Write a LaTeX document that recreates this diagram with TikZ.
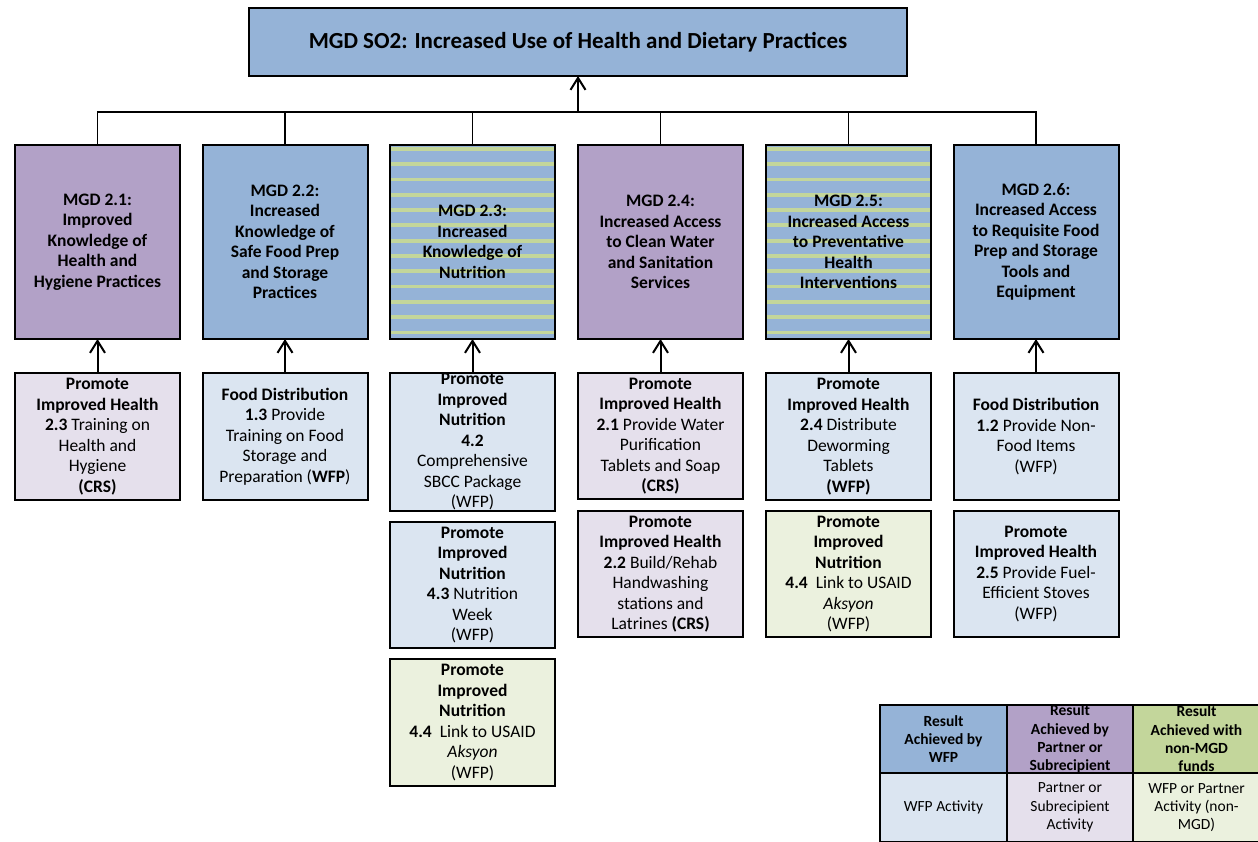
\documentclass[tikz,border=0pt]{standalone}
\usepackage{fontspec}
\setmainfont{Carlito}
\usetikzlibrary{arrows.meta,calc}
\definecolor{hblue}{HTML}{95B3D7}
\definecolor{hpurple}{HTML}{B2A1C7}
\definecolor{hgreen}{HTML}{C3D69B}
\definecolor{lblue}{HTML}{DBE5F1}
\definecolor{lpurple}{HTML}{E5E0EC}
\definecolor{lgreen}{HTML}{EBF1DE}
\tikzset{
  box/.style={draw=black, line width=2pt, rectangle, inner sep=0pt, outer sep=0pt},
  l2box/.style={box, minimum width=165pt, minimum height=194pt},
  l3box/.style={box, minimum width=165pt},
  lgbox/.style={box, minimum width=126.5pt},
  striped/.style={fill=hblue, path picture={
      \foreach \k in {0,...,12}{
        \fill[hgreen] ($(path picture bounding box.north west)+(-1pt,-2pt-\k*15.3pt)$) rectangle ++(170pt,-3.8pt);}}},
  txt/.style={align=center, inner sep=0pt, font=\fontsize{17.5}{20.5}\selectfont},
  btxt/.style={txt, font=\fontsize{17.5}{20.5}\selectfont\bfseries},
  lgtxt/.style={align=center, inner sep=0pt, font=\fontsize{15.5}{18.3}\selectfont},
  lgbtxt/.style={lgtxt, font=\fontsize{15.5}{18.3}\selectfont\bfseries},
  conn/.style={line width=2pt, -{Straight Barb[length=12pt,width=15pt]}},
  busline/.style={line width=1.6pt},
}
\begin{document}
\begin{tikzpicture}[x=1pt,y=-1pt]
\useasboundingbox (0,0) rectangle (1258,842);
\fill[white] (0,0) rectangle (1258,842);

% title
\node[box, line width=2.4pt, fill=hblue, minimum width=658pt, minimum height=68pt,
      font=\fontsize{23}{27}\selectfont\bfseries] (so2) at (578,42)
  {MGD SO2: Increased Use of Health and Dietary Practices};

% level 2
\node[l2box, fill=hpurple] (a2) at (97.5,242) {};
\node[btxt] at (a2) {MGD 2.1:\\Improved\\Knowledge of\\Health and\\Hygiene Practices};
\node[l2box, fill=hblue] (b2) at (285,242) {};
\node[btxt] at (b2) {MGD 2.2:\\Increased\\Knowledge of\\Safe Food Prep\\and Storage\\Practices};
\node[l2box, striped] (c2) at (472.5,242) {};
\node[btxt] at (c2) {MGD 2.3:\\Increased\\Knowledge of\\Nutrition};
\node[l2box, fill=hpurple] (d2) at (660.5,242) {};
\node[btxt] at (d2) {MGD 2.4:\\Increased Access\\to Clean Water\\and Sanitation\\Services};
\node[l2box, striped] (e2) at (848.5,242) {};
\node[btxt] at (e2) {MGD 2.5:\\Increased Access\\to Preventative\\Health\\Interventions};
\node[l2box, fill=hblue] (f2) at (1036,242) {};
\node[btxt] at (f2) {MGD 2.6:\\Increased Access\\to Requisite Food\\Prep and Storage\\Tools and\\Equipment};

% bus
\coordinate (bus) at (578,112);
\foreach \n in {a2,b2,c2,d2,e2,f2}{\draw[busline] (\n.north) |- (bus);}
\draw[conn] (bus) -- (so2.south);

% level 3
\node[l3box, fill=lpurple, minimum height=127pt] (a3) at (97.5,436.5) {};
\node[txt] at (a3) {\textbf{Promote}\\\textbf{Improved Health}\\\textbf{2.3} Training on\\Health and\\Hygiene\\\textbf{(CRS)}};

\node[l3box, fill=lblue, minimum height=127pt] (b3) at (285,436.5) {};
\node[txt] at (b3) {\textbf{Food Distribution}\\\textbf{1.3} Provide\\Training on Food\\Storage and\\Preparation (\textbf{WFP})};

\node[l3box, fill=lblue, minimum height=138pt] (c3a) at (472.5,442) {};
\node[txt] at (c3a) {\textbf{Promote}\\\textbf{Improved}\\\textbf{Nutrition}\\\textbf{4.2}\\Comprehensive\\SBCC Package\\(WFP)};
\node[l3box, fill=lblue, minimum height=126pt] (c3b) at (472.5,585) {};
\node[txt] at (c3b) {\textbf{Promote}\\\textbf{Improved}\\\textbf{Nutrition}\\\textbf{4.3} Nutrition\\Week\\(WFP)};
\node[l3box, fill=lgreen, minimum height=127pt] (c3c) at (472.5,722.5) {};
\node[txt] at (c3c) {\textbf{Promote}\\\textbf{Improved}\\\textbf{Nutrition}\\\textbf{4.4}\ \ Link to USAID\\\textit{Aksyon}\\(WFP)};

\node[l3box, fill=lpurple, minimum height=126pt] (d3a) at (660.5,436) {};
\node[txt] at (d3a) {\textbf{Promote}\\\textbf{Improved Health}\\\textbf{2.1} Provide Water\\Purification\\Tablets and Soap\\\textbf{(CRS)}};
\node[l3box, fill=lpurple, minimum height=126pt] (d3b) at (660.5,574) {};
\node[txt] at (d3b) {\textbf{Promote}\\\textbf{Improved Health}\\\textbf{2.2} Build/Rehab\\Handwashing\\stations and\\Latrines \textbf{(CRS)}};

\node[l3box, fill=lblue, minimum height=127pt] (e3a) at (848.5,436.5) {};
\node[txt] at (e3a) {\textbf{Promote}\\\textbf{Improved Health}\\\textbf{2.4} Distribute\\Deworming\\Tablets\\\textbf{(WFP)}};
\node[l3box, fill=lgreen, minimum height=126pt] (e3b) at (848.5,574) {};
\node[txt] at (e3b) {\textbf{Promote}\\\textbf{Improved}\\\textbf{Nutrition}\\\textbf{4.4}\ \ Link to USAID\\\textit{Aksyon}\\(WFP)};

\node[l3box, fill=lblue, minimum height=127pt] (f3a) at (1036,436.5) {};
\node[txt] at (f3a) {\textbf{Food Distribution}\\\textbf{1.2} Provide Non-\\Food Items\\(WFP)};
\node[l3box, fill=lblue, minimum height=126pt] (f3b) at (1036,574) {};
\node[txt] at (f3b) {\textbf{Promote}\\\textbf{Improved Health}\\\textbf{2.5} Provide Fuel-\\Efficient Stoves\\(WFP)};

% arrows level 3 -> level 2
\draw[conn] (a3.north) -- (a2.south);
\draw[conn] (b3.north) -- (b2.south);
\draw[conn] (c3a.north) -- (c2.south);
\draw[conn] (d3a.north) -- (d2.south);
\draw[conn] (e3a.north) -- (e2.south);
\draw[conn] (f3a.north) -- (f2.south);

% legend
\node[lgbox, fill=hblue, minimum height=68pt] (lg1) at (943.5,739) {};
\node[lgbtxt] at (lg1) {Result\\Achieved by\\WFP};
\node[lgbox, fill=hpurple, minimum height=68pt] (lg2) at (1070,739) {};
\node[lgbtxt] at (lg2) {Result\\Achieved by\\Partner or\\Subrecipient};
\node[lgbox, fill=hgreen, minimum height=68pt] (lg3) at (1196.5,739) {};
\node[lgbtxt] at (lg3) {Result\\Achieved with\\non-MGD\\funds};
\node[lgbox, fill=lblue, minimum height=69pt] (lg4) at (943.5,807.5) {};
\node[lgtxt] at (lg4) {WFP Activity};
\node[lgbox, fill=lpurple, minimum height=69pt] (lg5) at (1070,807.5) {};
\node[lgtxt] at (lg5) {Partner or\\Subrecipient\\Activity};
\node[lgbox, fill=lgreen, minimum height=69pt] (lg6) at (1196.5,807.5) {};
\node[lgtxt] at (lg6) {WFP or Partner\\Activity (non-\\MGD)};
\end{tikzpicture}
\end{document}
